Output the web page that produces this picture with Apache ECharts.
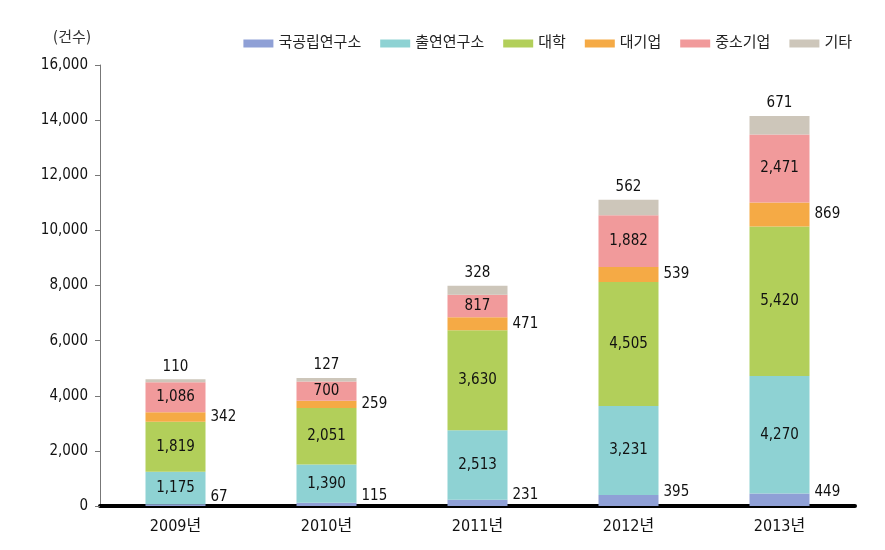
<!DOCTYPE html>
<html><head><meta charset="utf-8">
<script src="https://cdn.jsdelivr.net/npm/echarts@6/dist/echarts.min.js"></script>
<style>html,body{margin:0;padding:0;background:#fff}#c{width:885px;height:550px}</style>
</head><body><div id="c"></div>
<script>
const categories = ['2009년','2010년','2011년','2012년','2013년'];
const seriesNames = ['국공립연구소','출연연구소','대학','대기업','중소기업','기타'];
const national = [67,115,231,395,449];
const govFunded = [1175,1390,2513,3231,4270];
const university = [1819,2051,3630,4505,5420];
const largeCorp = [342,259,471,539,869];
const smeCorp = [1086,700,817,1882,2471];
const others = [110,127,328,562,671];
const yTicks = [0,2000,4000,6000,8000,10000,12000,14000,16000];

const FONT = "'DejaVu Sans Condensed','Noto Sans CJK KR',sans-serif";
const colors = ['#8fa0d6','#8ed2d3','#b2cf5a','#f5aa45','#f19a9b','#cdc6ba'];
const fmt = v => Number(v).toLocaleString('en-US');
const dataSets = [national, govFunded, university, largeCorp, smeCorp, others];
const labelPos = ['right','inside','inside','right','inside','top'];
const labelOffset = [[0,-8],[0,0],[0,0],[0,0],[0,0],[0,0]];

const chart = echarts.init(document.getElementById('c'));
chart.setOption({
  animation:false,
  color: colors,
  textStyle:{fontFamily:FONT},
  title:{text:'(건수)', left:48, top:26, textStyle:{fontFamily:FONT, fontSize:15, fontWeight:'normal', color:'#333'}},
  legend:{
    data: seriesNames, right:28, top:31, itemWidth:30, itemHeight:8, itemGap:19,
    icon:'rect',
    textStyle:{fontFamily:FONT, fontSize:15, color:'#222'}
  },
  grid:{left:100, right:30, top:65, bottom:44},
  xAxis:{
    type:'category', data: categories,
    axisLine:{lineStyle:{color:'#000', width:4}},
    axisTick:{show:false},
    axisLabel:{fontFamily:FONT, fontSize:16, color:'#111', margin:13}
  },
  yAxis:{
    type:'value', min:yTicks[0], max:yTicks[yTicks.length-1], interval:2000,
    axisLine:{show:true, lineStyle:{color:'#777', width:1}},
    axisTick:{show:true, length:5, lineStyle:{color:'#777'}},
    splitLine:{show:false},
    axisLabel:{fontFamily:FONT, fontSize:15, color:'#111', margin:12, formatter: v => fmt(v)}
  },
  series: seriesNames.map((n,i)=>({
    name:n, type:'bar', stack:'total', barWidth:60,
    data: dataSets[i],
    label:{show:true, position:labelPos[i], offset:labelOffset[i], distance:5,
      fontFamily:FONT, fontSize:15, color:'#111', formatter: p => fmt(p.value)}
  }))
});
</script>
</body></html>
